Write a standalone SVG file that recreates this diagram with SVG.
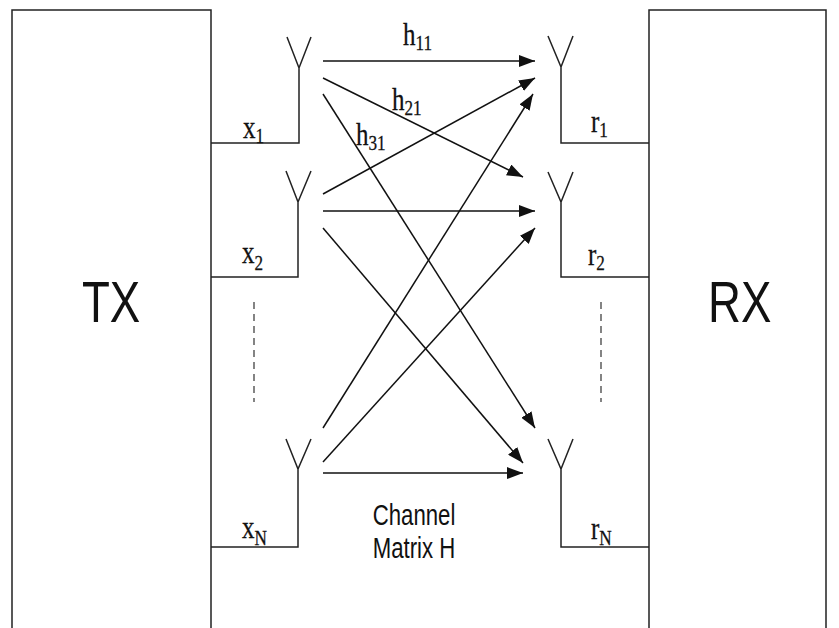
<svg xmlns="http://www.w3.org/2000/svg" width="839" height="628" viewBox="0 0 839 628">
<defs>
<style>
.ln{stroke:#222;stroke-width:1.5;fill:none}
.ar{stroke:#111;stroke-width:1.5;fill:none;marker-end:url(#ah)}
.dash{stroke:#333;stroke-width:1.2;stroke-dasharray:7,5;fill:none}
.tm{font-family:"Liberation Serif",serif;font-size:32px;fill:#111;stroke:#111;stroke-width:0.3}
.sub{font-size:22px}
.big{font-family:"Liberation Sans",Arial,sans-serif;font-size:57px;fill:#111}
.cap{font-family:"Liberation Sans",Arial,sans-serif;font-size:30px;fill:#111}
</style>
<marker id="ah" markerUnits="userSpaceOnUse" markerWidth="16" markerHeight="12" viewBox="0 0 16 12" refX="16" refY="6" orient="auto">
<path d="M0,0 L16,6 L0,12 z" fill="#111"/>
</marker>
</defs>
<rect width="839" height="628" fill="#fff"/>
<g id="tx">
<path class="ln" d="M12,640 V10 H211 V640"/>
<text class="big" transform="translate(82,322) scale(0.8,1)">TX</text>
</g>
<g id="rx">
<path class="ln" d="M649,640 V10 H826 V640"/>
<text class="big" transform="translate(708,322) scale(0.8,1)">RX</text>
</g>
<g id="tx-ant1">
<path class="ln" d="M287,37 L299,68 L311,37 M299,68 V143 H211"/>
<text class="tm" transform="translate(243,138) scale(0.78,1)">x<tspan class="sub" dy="5">1</tspan></text>
</g>
<g id="tx-ant2">
<path class="ln" d="M286,171 L298,202 L311,171 M298,202 V277 H211"/>
<text class="tm" transform="translate(242,263) scale(0.78,1)">x<tspan class="sub" dy="7">2</tspan></text>
</g>
<g id="tx-antN">
<path class="ln" d="M286,439 L298,469 L311,439 M298,469 V547 H211"/>
<text class="tm" transform="translate(242,538) scale(0.78,1)">x<tspan class="sub" dy="7">N</tspan></text>
</g>
<g id="rx-ant1">
<path class="ln" d="M548,36 L561,67 L573,36 M561,67 V143 H649"/>
<text class="tm" transform="translate(591,132) scale(0.78,1)">r<tspan class="sub" dy="5">1</tspan></text>
</g>
<g id="rx-ant2">
<path class="ln" d="M548,172 L561,202 L573,172 M561,202 V277 H649"/>
<text class="tm" transform="translate(588,265) scale(0.78,1)">r<tspan class="sub" dy="5">2</tspan></text>
</g>
<g id="rx-antN">
<path class="ln" d="M548,439 L561,469 L573,439 M561,469 V547 H649"/>
<text class="tm" transform="translate(591,539) scale(0.78,1)">r<tspan class="sub" dy="6">N</tspan></text>
</g>
<g id="dots">
<line class="dash" x1="254" y1="302" x2="254" y2="402"/>
<line class="dash" x1="601" y1="302" x2="601" y2="402"/>
</g>
<g id="connectors">
<line class="ar" x1="323" y1="61" x2="535" y2="61"/>
<line class="ar" x1="323" y1="78" x2="523" y2="177"/>
<line class="ar" x1="323" y1="94" x2="535" y2="428"/>
<line class="ar" x1="323" y1="194" x2="535" y2="78"/>
<line class="ar" x1="323" y1="211" x2="535" y2="211"/>
<line class="ar" x1="323" y1="228" x2="523" y2="463"/>
<line class="ar" x1="323" y1="428" x2="533" y2="94"/>
<line class="ar" x1="323" y1="462" x2="535" y2="228"/>
<line class="ar" x1="323" y1="473" x2="523" y2="473"/>
</g>
<g id="labels">
<text class="tm" transform="translate(403,45) scale(0.78,1)">h<tspan class="sub" dy="5">11</tspan></text>
<text class="tm" transform="translate(392,110) scale(0.78,1)">h<tspan class="sub" dy="5">21</tspan></text>
<text class="tm" transform="translate(356,145) scale(0.78,1)">h<tspan class="sub" dy="5">31</tspan></text>
<text class="cap" text-anchor="middle" transform="translate(414,525) scale(0.74,1)">Channel</text>
<text class="cap" text-anchor="middle" transform="translate(414,558) scale(0.74,1)">Matrix H</text>
</g>
</svg>
